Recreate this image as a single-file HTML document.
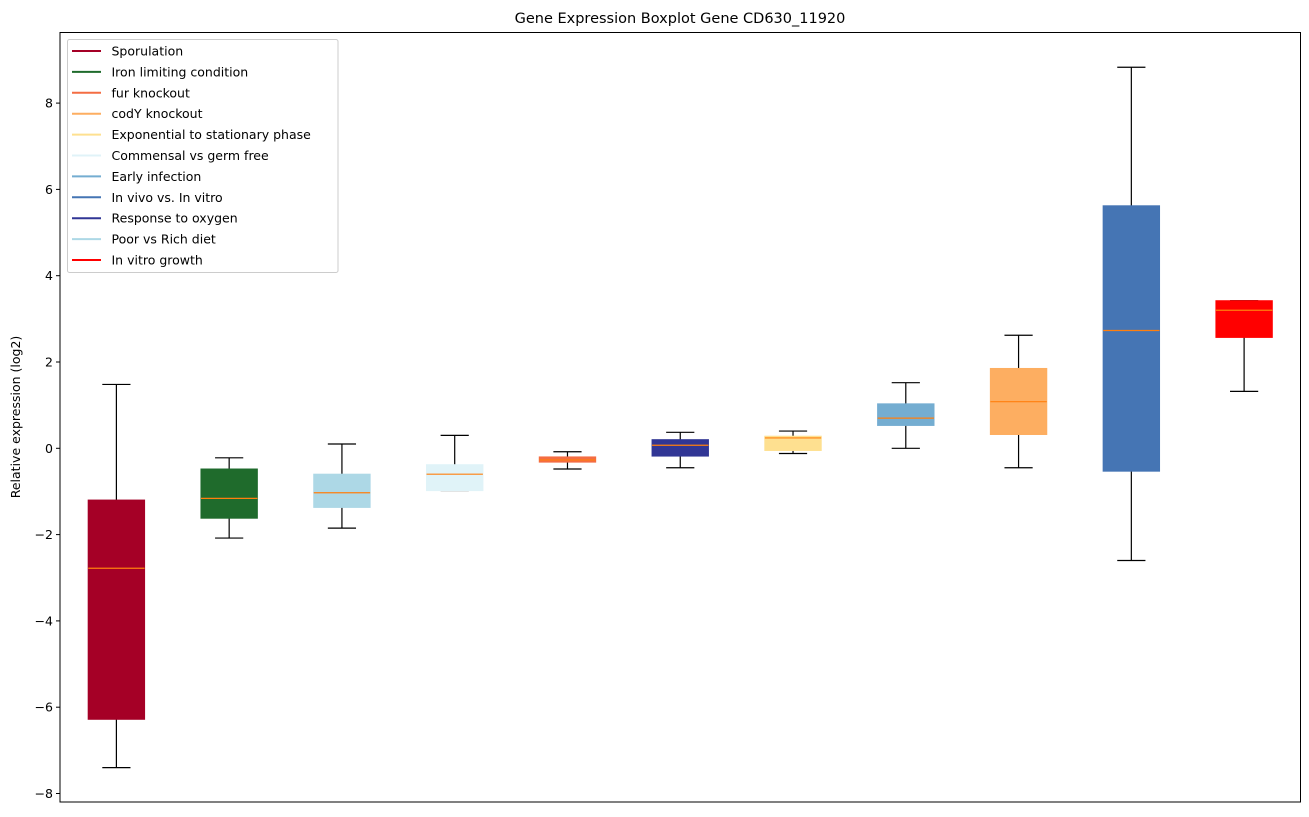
<!DOCTYPE html>
<html><head><meta charset="utf-8"><style>
body{margin:0;background:#fff;font-family:"Liberation Sans","DejaVu Sans",sans-serif}
svg text{font-family:"DejaVu Sans","Liberation Sans",sans-serif}
</style></head><body>
<svg id="chart" width="1309" height="812" xmlns="http://www.w3.org/2000/svg"></svg>
<script>
const categories=["Sporulation","Iron limiting condition","Poor vs Rich diet","Commensal vs germ free","fur knockout","Response to oxygen","Exponential to stationary phase","Early infection","codY knockout","In vivo vs. In vitro","In vitro growth"];
const colors=["#a50026","#1f6b2c","#add8e6","#e0f3f8","#f46d43","#313695","#fee090","#74add1","#fdae61","#4575b4","#ff0000"];
const whiskerHigh=[1.48,-0.22,0.1,0.3,-0.08,0.37,0.4,1.52,2.62,8.83,3.42];
const q3=[-1.2,-0.48,-0.6,-0.38,-0.2,0.2,0.28,1.03,1.85,5.62,3.42];
const medians=[-2.78,-1.16,-1.03,-0.6,-0.27,0.07,0.24,0.7,1.08,2.73,3.2];
const q1=[-6.28,-1.62,-1.37,-0.98,-0.32,-0.18,-0.05,0.53,0.32,-0.53,2.57];
const whiskerLow=[-7.4,-2.08,-1.85,-0.98,-0.48,-0.45,-0.12,0.0,-0.45,-2.6,1.32];
const yTicks=[-8,-6,-4,-2,0,2,4,6,8];
const legendLabels=["Sporulation","Iron limiting condition","fur knockout","codY knockout","Exponential to stationary phase","Commensal vs germ free","Early infection","In vivo vs. In vitro","Response to oxygen","Poor vs Rich diet","In vitro growth"];
const legendColors=["#a50026","#1f6b2c","#f46d43","#fdae61","#fee090","#e0f3f8","#74add1","#4575b4","#313695","#add8e6","#ff0000"];

const L=60,R=1300.5,T=32.5,B=802;
const ys=v=>448.3-v*43.15;
const step=(R-L)/categories.length;
const xs=i=>L+step*(i+0.5);
const svg=document.getElementById('chart');
const NS="http://www.w3.org/2000/svg";
function mk(tag,attrs,parent){const e=document.createElementNS(NS,tag);for(const k in attrs)e.setAttribute(k,attrs[k]);(parent||svg).appendChild(e);return e;}

const title=mk('text',{x:680,y:23,'text-anchor':'middle','font-size':14.5});
title.textContent="Gene Expression Boxplot Gene CD630_11920";


const yl=mk('text',{x:0,y:0,'text-anchor':'middle','font-size':12.5,transform:'translate(20,417) rotate(-90)'});
yl.textContent="Relative expression (log2)";



yTicks.forEach(t=>{
 const g=mk('g',{});
 
 
 mk('line',{x1:L-4,x2:L,y1:ys(t),y2:ys(t),stroke:'#000','stroke-width':1},g);
 const tx=mk('text',{x:L-7,y:ys(t)+4.5,'text-anchor':'end','font-size':12.5},g);
 tx.textContent=(t<0?'\u2212'+(-t):String(t));
});

const wb=step*0.5, cap=wb/2;
categories.forEach((c,i)=>{
 const g=mk('g',{});
 
 
 const x=xs(i);
 mk('line',{x1:x,x2:x,y1:ys(whiskerHigh[i]),y2:ys(q3[i]),stroke:'#000','stroke-width':1.2},g);
 mk('line',{x1:x,x2:x,y1:ys(q1[i]),y2:ys(whiskerLow[i]),stroke:'#000','stroke-width':1.2},g);
 mk('line',{x1:x-cap/2,x2:x+cap/2,y1:ys(whiskerHigh[i]),y2:ys(whiskerHigh[i]),stroke:'#000','stroke-width':1.2},g);
 mk('line',{x1:x-cap/2,x2:x+cap/2,y1:ys(whiskerLow[i]),y2:ys(whiskerLow[i]),stroke:'#000','stroke-width':1.2},g);
 mk('rect',{x:x-wb/2,y:ys(q3[i]),width:wb,height:Math.max(1,ys(q1[i])-ys(q3[i])),fill:colors[i],stroke:colors[i],'stroke-width':1},g);
 mk('line',{x1:x-wb/2,x2:x+wb/2,y1:ys(medians[i]),y2:ys(medians[i]),stroke:'#ff7f0e','stroke-width':1.2},g);
});

mk('rect',{x:L,y:T,width:R-L,height:B-T,fill:'none',stroke:'#000','stroke-width':1});

const lg=mk('g',{});


mk('rect',{x:67.5,y:39.5,width:270.5,height:233,fill:'#fff','fill-opacity':0.8,stroke:'#ccc','stroke-width':1,rx:2},lg);
legendLabels.forEach((l,i)=>{
 const y=51+i*20.9;
 const e=mk('g',{},lg);
 
 
 mk('line',{x1:72,x2:101,y1:y,y2:y,stroke:legendColors[i],'stroke-width':2},e);
 const t=mk('text',{x:111.5,y:y+4.5,'font-size':12.5},e);
 t.textContent=l;
});
</script>
</body></html>
